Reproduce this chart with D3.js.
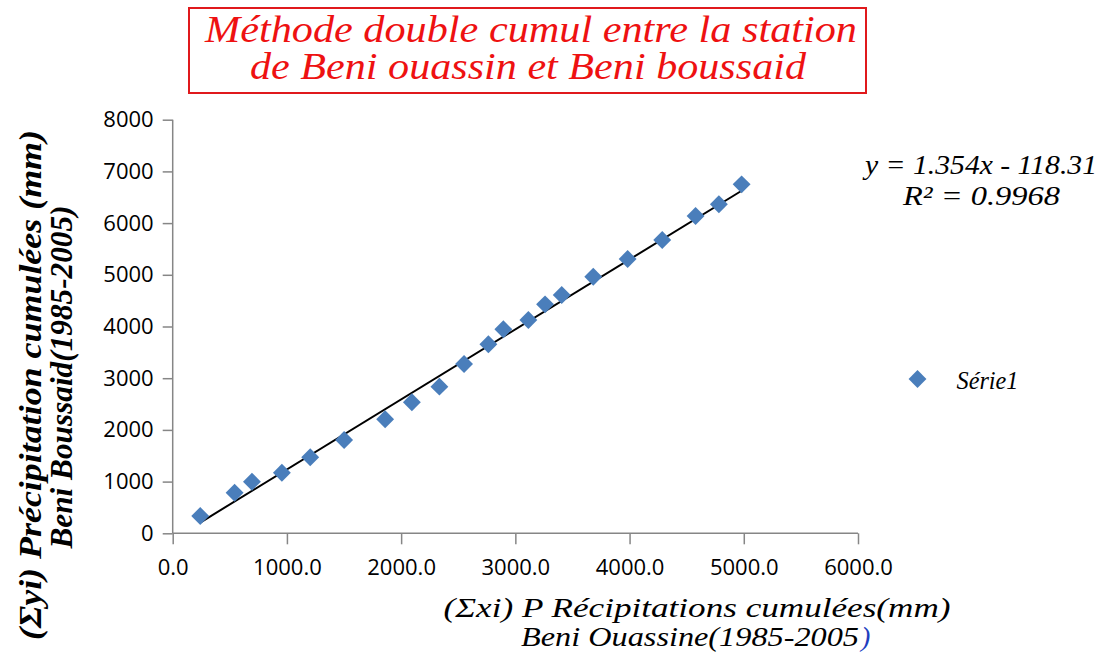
<!DOCTYPE html>
<html><head><meta charset="utf-8">
<script src="https://cdn.jsdelivr.net/npm/d3@7"></script>
<style>body{margin:0;background:#fff;} svg{display:block;}</style>
</head><body>
<svg id="chart" width="1116" height="657"></svg>
<script>
const xValues = [241, 542, 694, 956, 1204, 1501, 1860, 2094, 2335, 2551, 2764, 2895, 3114, 3260, 3406, 3682, 3983, 4286, 4578, 4782, 4981];
const yValues = [335, 785, 998, 1172, 1470, 1805, 2205, 2534, 2836, 3275, 3656, 3946, 4126, 4429, 4609, 4963, 5306, 5673, 6137, 6364, 6750];
const xTicks = [0, 1000, 2000, 3000, 4000, 5000, 6000];
const yTicks = [0, 1000, 2000, 3000, 4000, 5000, 6000, 7000, 8000];
const slope = 1.354, intercept = -118.31, r2 = 0.9968;
const seriesName = "Série1";

const svg = d3.select("#chart");
const x = d3.scaleLinear().domain([0, 6000]).range([172.7, 858]);
const y = d3.scaleLinear().domain([0, 8000]).range([533.3, 119.7]);
const axisColor = "#868686";
const tickFont = "'Open Sans', 'Liberation Sans', sans-serif";
const scriptFont = "'Liberation Serif', 'DejaVu Serif', serif";

// helper: one text line stretched to a given length
function line(parent, str, cx, by, len, size, opts = {}) {
  return parent.append("text").attr("x", cx).attr("y", by)
    .attr("text-anchor", opts.anchor || "middle")
    .attr("fill", opts.fill || "#000")
    .attr("textLength", len).attr("lengthAdjust", "spacingAndGlyphs")
    .style("font-family", scriptFont).style("font-style", "italic")
    .style("font-weight", opts.bold ? "bold" : "normal")
    .style("font-size", size + "px")
    .text(str);
}

// title box
svg.append("rect").attr("x", 189).attr("y", 8).attr("width", 677).attr("height", 85)
  .attr("fill", "#fff").attr("stroke", "#e0191c").attr("stroke-width", 2);
line(svg, "Méthode double cumul entre la station", 531, 42, 652, 37, {fill: "#ee1111"});
line(svg, "de Beni ouassin et Beni boussaid", 528, 79, 556, 37, {fill: "#ee1111"});

// axes
const xAxis = svg.append("g").attr("transform", `translate(0,${y(0)})`)
  .call(d3.axisBottom(x).tickValues(xTicks).tickFormat(d3.format(".1f")).tickSize(11).tickPadding(15));
const yAxis = svg.append("g").attr("transform", `translate(${x(0)},0)`)
  .call(d3.axisLeft(y).tickValues(yTicks).tickFormat(d => d).tickSize(10).tickPadding(9));
[xAxis, yAxis].forEach(g => {
  g.select(".domain").attr("stroke", axisColor).attr("stroke-width", 1.5);
  g.selectAll(".tick line").attr("stroke", axisColor).attr("stroke-width", 1.5);
  g.selectAll(".tick text").attr("fill", "#000").style("font-family", tickFont).style("font-size", "22px");
});
xAxis.select(".domain").attr("d", `M${x(0)},0H${x(6000)}`);
yAxis.select(".domain").attr("d", `M0,${y(0)}V${y(8000)}`);

// trendline
const xMin = d3.min(xValues), xMax = d3.max(xValues);
svg.append("line")
  .attr("x1", x(xMin)).attr("y1", y(slope * xMin + intercept))
  .attr("x2", x(xMax)).attr("y2", y(slope * xMax + intercept))
  .attr("stroke", "#000").attr("stroke-width", 2);

// points
const pts = xValues.map((v, i) => [v, yValues[i]]);
svg.append("g").selectAll("path").data(pts).join("path")
  .attr("d", d3.symbol().type(d3.symbolSquare).size(160))
  .attr("transform", d => `translate(${x(d[0])},${y(d[1])}) rotate(45)`)
  .attr("fill", "#4a7ebb");

// equation
line(svg, `y = ${slope}x - ${Math.abs(intercept)}`, 981, 174, 232, 27);
line(svg, `R² = ${r2}`, 981.5, 205, 157, 27);

// legend
svg.append("path").attr("d", d3.symbol().type(d3.symbolSquare).size(160))
  .attr("transform", "translate(917.5,379) rotate(45)").attr("fill", "#4a7ebb");
line(svg, seriesName, 956.5, 389, 62, 26, {anchor: "start"});

// y axis title
const yg = svg.append("g").attr("transform", "translate(0,385) rotate(-90)");
line(yg, "(Σyi) Précipitation cumulées (mm)", 0, 41, 510, 31, {bold: true});
line(yg, "Beni Boussaid(1985-2005)", 8, 72, 343, 31, {bold: true});

// x axis title
line(svg, "(Σxi) P Récipitations cumulées(mm)", 697, 617, 507, 28);
line(svg, "Beni Ouassine(1985-2005", 690, 646, 338, 28);
svg.append("text").attr("x", 861).attr("y", 646).attr("fill", "#1f3fbf")
  .style("font-family", scriptFont).style("font-style", "italic").style("font-size", "28px").text(")");
</script>
</body></html>
